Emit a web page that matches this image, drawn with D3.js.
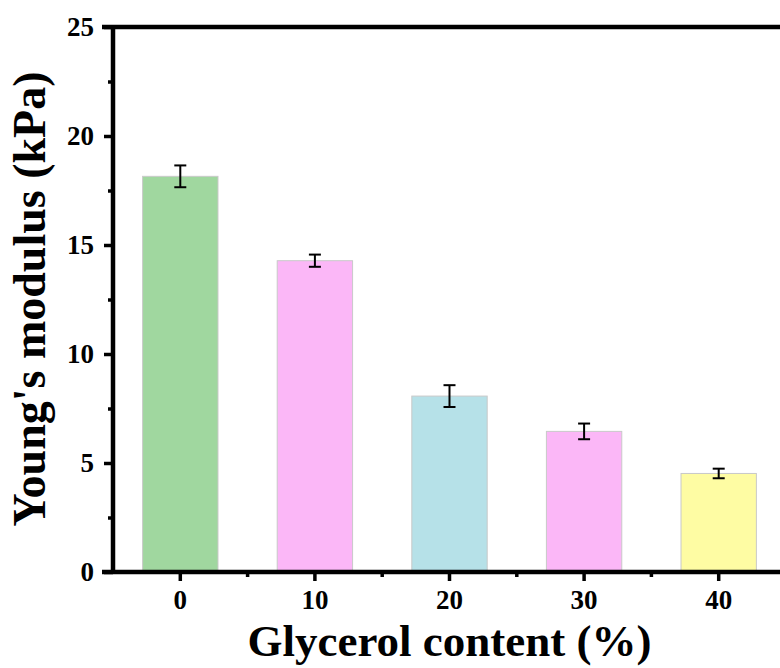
<!DOCTYPE html>
<html><head><meta charset="utf-8">
<script src="https://cdn.jsdelivr.net/npm/d3@7"></script>
<style>body{margin:0;background:#fff}svg{display:block}</style>
</head><body>
<script>
const categories = ["0","10","20","30","40"];
const values = [18.15, 14.28, 8.07, 6.45, 4.52];
const errors = [0.5, 0.28, 0.5, 0.36, 0.22];
const colors = ["#a0d79f","#fbb7f7","#b6e1e8","#fbb7f7","#fefca3"];
const yTicks = [0,5,10,15,20,25];
const yMinor = [2.5,7.5,12.5,17.5,22.5];

const W = 780, H = 668;
const mLeft = 113, mRight = 786, mTop = 27, mBottom = 572;
const font = "'Liberation Serif','Times New Roman',serif";

const svg = d3.select("body").append("svg").attr("width", W).attr("height", H);

const x = d3.scaleBand().domain(categories).range([mLeft, mRight]).paddingInner(0.44).paddingOuter(0.22);
const y = d3.scaleLinear().domain([0, 25]).range([mBottom, mTop]);

// bars
svg.selectAll("rect.bar").data(values).join("rect")
  .attr("class","bar")
  .attr("x", (d,i) => x(categories[i]))
  .attr("width", x.bandwidth())
  .attr("y", d => y(d))
  .attr("height", d => y(0) - y(d))
  .attr("fill", (d,i) => colors[i])
  .attr("stroke", "#c9c9c9").attr("stroke-width", 1);

// error bars
const eg = svg.append("g").attr("stroke", "#000").attr("stroke-width", 2).attr("fill","none");
values.forEach((v,i) => {
  const cx = x(categories[i]) + x.bandwidth()/2;
  const hi = y(v + errors[i]), lo = y(v - errors[i]);
  eg.append("line").attr("x1", cx).attr("x2", cx).attr("y1", hi).attr("y2", lo);
  eg.append("line").attr("x1", cx-6).attr("x2", cx+6).attr("y1", hi).attr("y2", hi);
  eg.append("line").attr("x1", cx-6).attr("x2", cx+6).attr("y1", lo).attr("y2", lo);
});

// y axis
const yAxis = d3.axisLeft(y).tickValues(yTicks).tickSize(9).tickPadding(10).tickFormat(d3.format("d"));
const gy = svg.append("g").attr("transform", `translate(${mLeft},0)`).call(yAxis);
gy.select(".domain").remove();
gy.selectAll(".tick line").attr("stroke-width", 3.5);
gy.selectAll(".tick text").attr("font-family", font).attr("font-weight", "bold").attr("font-size", 27).attr("fill","#000");
const yMinorAxis = d3.axisLeft(y).tickValues(yMinor).tickSize(5).tickFormat("");
const gym = svg.append("g").attr("transform", `translate(${mLeft},0)`).call(yMinorAxis);
gym.select(".domain").remove();
gym.selectAll(".tick line").attr("stroke-width", 3.5);

// x axis
const xAxis = d3.axisBottom(x).tickSize(9).tickPadding(9);
const gx = svg.append("g").attr("transform", `translate(0,${mBottom})`).call(xAxis);
gx.select(".domain").remove();
gx.selectAll(".tick line").attr("stroke-width", 3.5);
gx.selectAll(".tick text").attr("font-family", font).attr("font-weight", "bold").attr("font-size", 27).attr("fill","#000");
const mids = categories.slice(0,-1).map((c,i) => x(c) + x.bandwidth()/2 + x.step()/2);
svg.append("g").selectAll("line").data(mids).join("line")
  .attr("x1", d=>d).attr("x2", d=>d).attr("y1", mBottom).attr("y2", mBottom+5)
  .attr("stroke","#000").attr("stroke-width",3.5);

// frame lines
svg.append("line").attr("x1", mLeft).attr("x2", mLeft).attr("y1", mTop - 2).attr("y2", mBottom + 2).attr("stroke","#000").attr("stroke-width", 4.5);
svg.append("line").attr("x1", mLeft - 11).attr("x2", W).attr("y1", mBottom).attr("y2", mBottom).attr("stroke","#000").attr("stroke-width", 4.5);
svg.append("line").attr("x1", mLeft - 11).attr("x2", W).attr("y1", mTop).attr("y2", mTop).attr("stroke","#000").attr("stroke-width", 4.5);

// titles
svg.append("text").attr("x", (mLeft + mRight)/2).attr("y", 656).attr("text-anchor","middle")
  .attr("font-family", font).attr("font-weight","bold").attr("font-size", 45).text("Glycerol content (%)");
svg.append("text").attr("transform", `translate(45,${(70+528)/2}) rotate(-90)`).attr("text-anchor","middle")
  .attr("font-family", font).attr("font-weight","bold").attr("font-size", 46).text("Young's modulus (kPa)");
</script>
</body></html>
